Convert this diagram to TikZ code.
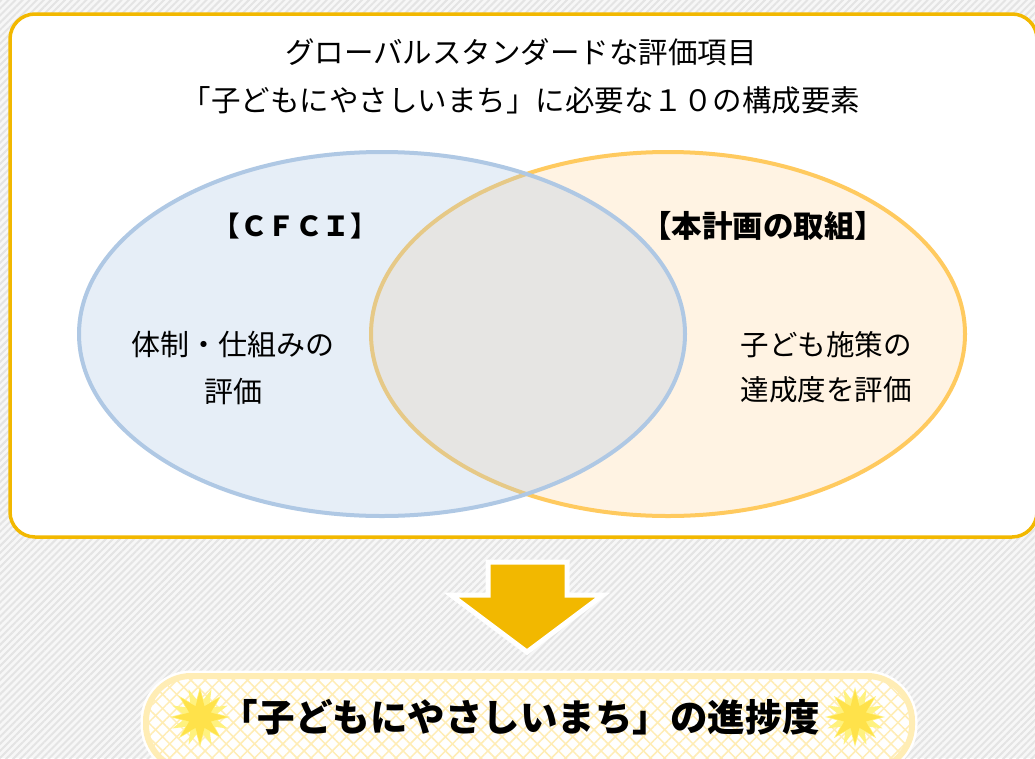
\documentclass[tikz,border=0pt]{standalone}
\usepackage{fontspec}
\usepackage{xcolor}
\usetikzlibrary{shapes.geometric,patterns.meta}
\newfontfamily\jp{Noto Sans CJK JP}
\definecolor{gold}{HTML}{F2B800}
\definecolor{peach}{HTML}{FFF3E3}
\definecolor{apricot}{HTML}{FFCA5F}
\definecolor{skyline}{HTML}{AFC8E4}
\definecolor{skyfill}{HTML}{AEC7E5}
\definecolor{cream}{HTML}{FFEDB5}
\definecolor{stripe}{HTML}{E4E4E4}
\definecolor{paleray}{HTML}{FFF27F}
\definecolor{brightray}{HTML}{FFE24A}
\tikzset{
  txt/.style={font=\jp\fontsize{29}{47}\selectfont,align=center,inner sep=0},
  head/.style={font=\jp\bfseries\fontsize{#1}{#1}\selectfont,inner sep=0},
  glow/.style={star,star points=16,star point ratio=1.7,fill=paleray,minimum size=60pt,inner sep=0},
  spark/.style={star,star points=8,star point ratio=2.3,fill=brightray,minimum size=54pt,inner sep=0}
}

\begin{document}
\begin{tikzpicture}[x=1pt,y=-1pt]
\useasboundingbox (0,0) rectangle (1035,758);
% striped background
\fill[white!97!black] (0,0) rectangle (1035,758);
\fill[pattern={Lines[angle=45,distance=5pt,line width=2pt]},pattern color=stripe] (0,0) rectangle (1035,758);
% frame
\draw[gold,line width=3.5pt,rounded corners=25pt,fill=white] (10,14) rectangle (1037,537);
% the two sets
\draw[apricot,line width=4pt,fill=peach] (668,334) ellipse [x radius=297,y radius=182];
\draw[skyline,line width=4pt,fill=skyfill,fill opacity=0.3] (382,334) ellipse [x radius=303,y radius=182];
\node[txt,font=\jp\fontsize{29.5}{48}\selectfont] (title) at (521,76) {グローバルスタンダードな評価項目\\「子どもにやさしいまち」に必要な１０の構成要素};
\node[head=27.5] (cfci) at (295,226) {【ＣＦＣＩ】};
\node[head=30.5] (plan) at (763,226) {【本計画の取組】};
\node[txt] (system) at (233,368) {体制・仕組みの\\評価};
\node[txt,font=\jp\fontsize{28.5}{45}\selectfont] (goal) at (826,367) {子ども施策の\\達成度を評価};
% arrow
\draw[white,line width=5pt,line join=miter,fill=gold] (488,562) -- (567,562) -- (567,595) -- (603,595) -- (527,652) -- (451,595) -- (488,595) -- cycle;
% banner
\draw[white,line width=11pt,rounded corners=45pt] (146,676) rectangle (912,770);
\fill[white,rounded corners=45pt] (146,676) rectangle (912,770);
\fill[pattern={Lines[angle=45,distance=10pt,line width=1.5pt]},pattern color=cream,rounded corners=45pt] (146,676) rectangle (912,770);
\fill[pattern={Lines[angle=-45,distance=10pt,line width=1.5pt]},pattern color=cream,rounded corners=45pt] (146,676) rectangle (912,770);
\draw[cream,line width=6pt,rounded corners=45pt] (146,676) rectangle (912,770);
\node[glow] (lglow) at (200,717) {};
\node[spark] (lspark) at (200,717) {};
\node[glow] (rglow) at (855,717) {};
\node[spark] (rspark) at (855,717) {};
\node[head=37.5] (progress) at (520,717) {「子どもにやさしいまち」の進捗度};
\end{tikzpicture}
\end{document}
